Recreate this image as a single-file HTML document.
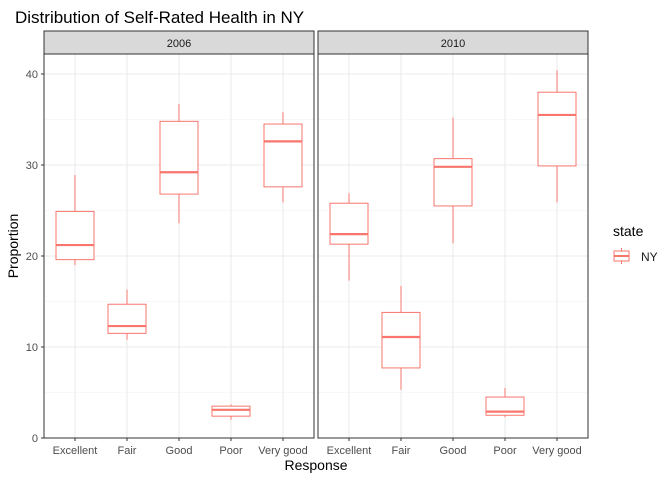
<!DOCTYPE html>
<html><head><meta charset="utf-8">
<style>
body{margin:0;background:#fff;font-family:"Liberation Sans",Arial,sans-serif;}
svg text{font-family:"Liberation Sans",Arial,sans-serif;}
</style></head>
<body>
<svg id="chart" width="672" height="480" xmlns="http://www.w3.org/2000/svg">
<text x="15" y="23" font-size="17" fill="#000">Distribution of Self-Rated Health in NY</text>
<text transform="translate(18,246) rotate(-90)" text-anchor="middle" font-size="14">Proportion</text>
<text x="316" y="470" text-anchor="middle" font-size="14">Response</text>
<text x="613" y="236" font-size="14">state</text>
<g>
<line x1="621.5" y1="248" x2="621.5" y2="264" stroke="#F8766D"/>
<rect x="614" y="251" width="15" height="10" fill="#fff" stroke="#F8766D"/>
<line x1="614" y1="256" x2="629" y2="256" stroke="#F8766D" stroke-width="2"/>
<text x="641" y="261" font-size="12" fill="#1a1a1a">NY</text>
</g>
<g>
<rect x="44" y="31" width="270" height="23" fill="#D9D9D9" stroke="#333"/>
<text x="179" y="47" text-anchor="middle" font-size="11" fill="#1A1A1A">2006</text>
</g>
<g>
<rect x="318" y="31" width="270" height="23" fill="#D9D9D9" stroke="#333"/>
<text x="453" y="47" text-anchor="middle" font-size="11" fill="#1A1A1A">2010</text>
</g>
<g id="grid"></g>
<g id="boxes"></g>
<rect x="44" y="54" width="270" height="384" fill="none" stroke="#333"/>
<rect x="318" y="54" width="270" height="384" fill="none" stroke="#333"/>
<g font-size="11" fill="#4D4D4D" text-anchor="middle">
<text x="75" y="454">Excellent</text><text x="127" y="454">Fair</text><text x="179" y="454">Good</text><text x="231" y="454">Poor</text><text x="283" y="454">Very good</text>
<text x="349" y="454">Excellent</text><text x="401" y="454">Fair</text><text x="453" y="454">Good</text><text x="505" y="454">Poor</text><text x="557" y="454">Very good</text>
</g>
<g font-size="11" fill="#4D4D4D" text-anchor="end">
<text x="38" y="442">0</text><text x="38" y="351">10</text><text x="38" y="260">20</text><text x="38" y="169">30</text><text x="38" y="78">40</text>
</g>
</svg>
<script>
const categories=["Excellent","Fair","Good","Poor","Very good"];
const years=["2006","2010"];
const yTicks=[0,10,20,30,40];
const stats2006=[[19.0,19.6,21.2,24.9,28.9],[10.8,11.5,12.3,14.7,16.3],[23.6,26.8,29.2,34.8,36.7],[2.0,2.4,3.1,3.5,3.7],[25.9,27.6,32.6,34.5,35.8]];
const stats2010=[[17.3,21.3,22.4,25.8,26.9],[5.3,7.7,11.1,13.8,16.7],[21.4,25.5,29.8,30.7,35.2],[2.3,2.5,2.9,4.5,5.5],[25.9,29.9,35.5,38.0,40.4]];
const allStats=[stats2006,stats2010];
var SVGNS="http://www.w3.org/2000/svg";
var gridG=document.getElementById('grid');
var boxG=document.getElementById('boxes');
var plotTop=54,plotBot=438,panelW=270;
var panelX=[44,318];
function yScale(v){return 438-v*9.1;}
function xScale(p,i){return panelX[p]+31+i*52;}
function addLine(parent,x1,y1,x2,y2,stroke,sw){
  var e=document.createElementNS(SVGNS,'line');
  e.setAttribute('x1',x1);e.setAttribute('y1',y1);e.setAttribute('x2',x2);e.setAttribute('y2',y2);
  e.setAttribute('stroke',stroke);e.setAttribute('stroke-width',sw);
  parent.appendChild(e);return e;
}
for(var p=0;p<2;p++){
  var x0=panelX[p];
  for(var v=5;v<=40;v+=10){addLine(gridG,x0,yScale(v),x0+panelW,yScale(v),'#F2F2F2',0.6);}
  for(var k=0;k<yTicks.length;k++){addLine(gridG,x0,yScale(yTicks[k]),x0+panelW,yScale(yTicks[k]),'#EBEBEB',1.1);}
  for(var i=0;i<categories.length;i++){
    addLine(gridG,xScale(p,i),plotTop,xScale(p,i),plotBot,'#EBEBEB',1.1);
    addLine(gridG,xScale(p,i),plotBot,xScale(p,i),plotBot+3,'#333',1);
  }
}
for(var k2=0;k2<yTicks.length;k2++){addLine(gridG,41,yScale(yTicks[k2]),44,yScale(yTicks[k2]),'#333',1);}
for(var p2=0;p2<2;p2++){
  for(var j=0;j<categories.length;j++){
    try{
      var s=allStats[p2][j];
      var cx=xScale(p2,j),hw=19;
      var b=document.createElementNS(SVGNS,'g');
      
      
      boxG.appendChild(b);
      addLine(b,cx,yScale(s[0]),cx,yScale(s[1]),'#F8766D',1);
      addLine(b,cx,yScale(s[3]),cx,yScale(s[4]),'#F8766D',1);
      var r=document.createElementNS(SVGNS,'rect');
      r.setAttribute('x',cx-hw);r.setAttribute('y',yScale(s[3]));
      r.setAttribute('width',2*hw);r.setAttribute('height',yScale(s[1])-yScale(s[3]));
      r.setAttribute('fill','#fff');r.setAttribute('stroke','#F8766D');
      b.appendChild(r);
      addLine(b,cx-hw,yScale(s[2]),cx+hw,yScale(s[2]),'#F8766D',2.2);
    }catch(err){}
  }
}
</script>
</body></html>
